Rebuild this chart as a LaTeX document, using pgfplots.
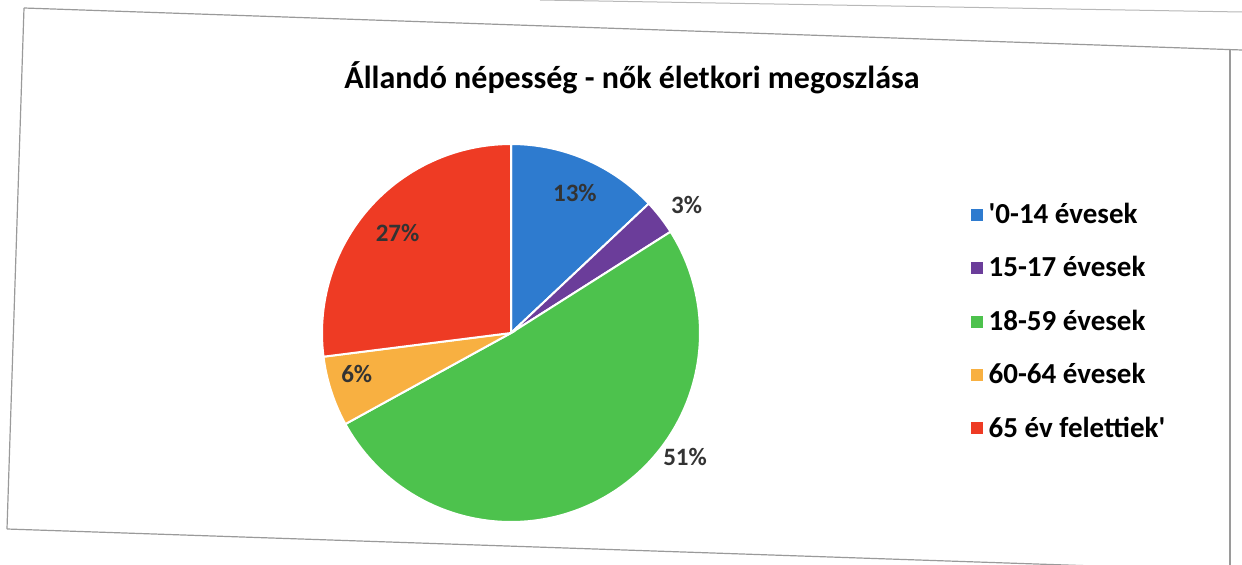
\documentclass[border=0pt]{standalone}
\usepackage{fontspec}
\setmainfont{Carlito}
\usepackage{pgfplots}
\usepackage{pgfplotstable}
\pgfplotsset{compat=1.18}
\usepgfplotslibrary{polar}
\definecolor{cblue}{HTML}{2E7BCF}
\definecolor{cpurple}{HTML}{6B3D9A}
\definecolor{cgreen}{HTML}{4DC24D}
\definecolor{corange}{HTML}{F8B041}
\definecolor{cred}{HTML}{EE3B24}
\definecolor{labgray}{HTML}{333333}
\definecolor{framegray}{HTML}{9A9A9A}
% share of each age group (percent): 13, 3, 51, 6, 27 -- clockwise from 12 o'clock
\pgfplotstableread{
ang   r     lab
65.5  0.815 13\%
36.1  1.15  3\%
-35.4 1.13  51\%
195   0.845 6\%
138.6 0.80  27\%
}\labels
\begin{document}
\begin{tikzpicture}[x=0.5pt,y=0.5pt]
\path[use as bounding box] (0,0) rectangle (1242,564);
\fill[white] (0,0) rectangle (1242,564);
\draw[framegray, line width=0.6pt] (24,556) -- (1242,514);
\draw[framegray, line width=0.6pt] (24,556) -- (7,35);
\draw[framegray, line width=0.6pt] (7,35) -- (1242,-7);
\draw[framegray, line width=0.6pt] (1230,514) -- (1230,-6);
\draw[framegray!70, line width=0.5pt] (540,564) -- (1242,552);
\node[font=\bfseries\fontsize{16}{19}\selectfont, text=black] at (632,486) {Állandó népesség - nők életkori megoszlása};
\begin{polaraxis}[
  at={(161pt,21pt)}, anchor=south west,
  width=189pt, height=189pt, scale only axis, clip=false,
  hide axis, xmin=0, xmax=360, ymin=0, ymax=1,
  legend cell align=left,
  legend image code/.code={\fill[#1, draw=none] (0pt,-3pt) rectangle (6pt,3pt);},
  legend style={at={(1.715,0.53)}, anchor=west, draw=none, fill=none,
    font=\bfseries\fontsize{14.5}{17}\selectfont, row sep=11pt, inner sep=0pt,
    /tikz/every even column/.append style={column sep=1pt},
    /tikz/every odd column/.append style={column sep=1pt}},
]
% 13% : 90 -> 43.2
\addplot[fill=cblue, draw=white, line width=1pt, domain=43.2:90, samples=60] {1} -- (axis cs:0,0) -- cycle;
\addlegendentry{\textquotesingle 0-14 évesek}
% 3% : 43.2 -> 32.4
\addplot[fill=cpurple, draw=white, line width=1pt, domain=32.4:43.2, samples=20] {1} -- (axis cs:0,0) -- cycle;
\addlegendentry{15-17 évesek}
% 51% : 32.4 -> -151.2
\addplot[fill=cgreen, draw=white, line width=1pt, domain=-151.2:32.4, samples=120] {1} -- (axis cs:0,0) -- cycle;
\addlegendentry{18-59 évesek}
% 6% : -151.2 -> -172.8
\addplot[fill=corange, draw=white, line width=1pt, domain=-172.8:-151.2, samples=20] {1} -- (axis cs:0,0) -- cycle;
\addlegendentry{60-64 évesek}
% 27% : -172.8 -> -270
\addplot[fill=cred, draw=white, line width=1pt, domain=-270:-172.8, samples=60] {1} -- (axis cs:0,0) -- cycle;
\addlegendentry{65 év felettiek\textquotesingle}
\addplot[forget plot, only marks, mark=none, draw=none,
  nodes near coords, point meta=explicit symbolic,
  nodes near coords align={center},
  nodes near coords style={font=\bfseries\fontsize{12.5}{14}\selectfont, text=labgray, anchor=center}]
  table[x=ang, y=r, meta=lab] {\labels};
\end{polaraxis}
\end{tikzpicture}
\end{document}
